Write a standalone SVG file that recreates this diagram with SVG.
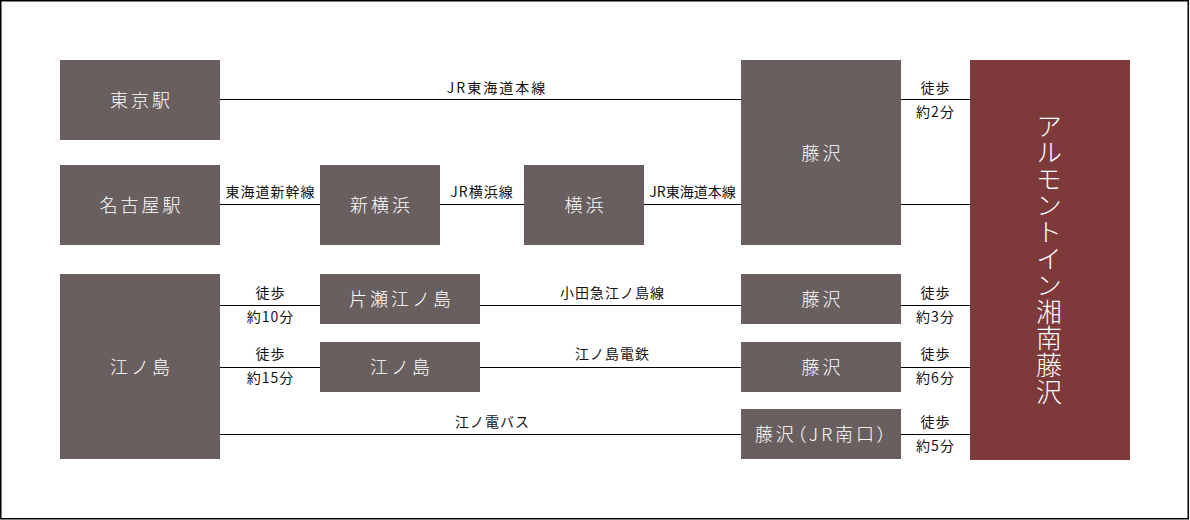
<svg xmlns="http://www.w3.org/2000/svg" width="1190" height="520" viewBox="0 0 1190 520">
<style>
.bg{fill:#ffffff}
.frame{fill:none;stroke:#000;stroke-width:1.5}
.n{fill:#6a5f5f}
.h{fill:#7e393a}
.nt{font-family:"Noto Sans CJK JP","Noto Sans CJK SC",sans-serif;font-size:18px;font-weight:300;fill:#fff;text-anchor:middle;letter-spacing:3px}
.ht{font-family:"Noto Sans CJK JP","Noto Sans CJK SC",sans-serif;font-size:26px;font-weight:300;fill:#fff;text-anchor:middle;writing-mode:vertical-rl;letter-spacing:0.6px}
.lb{font-family:"Noto Sans CJK JP","Noto Sans CJK SC",sans-serif;font-size:14px;fill:#111;text-anchor:middle;letter-spacing:1px}
.c line{stroke:#000;stroke-width:1.2}
</style>
<rect class="bg" x="0" y="0" width="1190" height="520"/>
<rect class="frame" x="0.75" y="0.75" width="1187.5" height="518"/>

<g class="c" id="connectors">
<line x1="220" y1="99.5" x2="741" y2="99.5"/>
<line x1="220" y1="204.5" x2="320" y2="204.5"/>
<line x1="440" y1="204.5" x2="524" y2="204.5"/>
<line x1="644" y1="204.5" x2="741" y2="204.5"/>
<line x1="901" y1="99.5" x2="970" y2="99.5"/>
<line x1="901" y1="204.5" x2="970" y2="204.5"/>
<line x1="220" y1="305.5" x2="320" y2="305.5"/>
<line x1="480" y1="305.5" x2="741" y2="305.5"/>
<line x1="901" y1="305.5" x2="970" y2="305.5"/>
<line x1="220" y1="367.5" x2="320" y2="367.5"/>
<line x1="480" y1="367.5" x2="741" y2="367.5"/>
<line x1="901" y1="367.5" x2="970" y2="367.5"/>
<line x1="220" y1="434.5" x2="741" y2="434.5"/>
<line x1="901" y1="434.5" x2="970" y2="434.5"/>
</g>

<g id="labels">
<text class="lb" x="497" y="93" style="letter-spacing:2px">JR東海道本線</text>
<text class="lb" x="270.5" y="197">東海道新幹線</text>
<text class="lb" x="482" y="197">JR横浜線</text>
<text class="lb" x="692.5" y="197" style="letter-spacing:0px">JR東海道本線</text>
<text class="lb" x="935.5" y="93">徒歩</text>
<text class="lb" x="935.5" y="117">約2分</text>
<text class="lb" x="270.5" y="298">徒歩</text>
<text class="lb" x="270.5" y="322">約10分</text>
<text class="lb" x="612.5" y="298">小田急江ノ島線</text>
<text class="lb" x="935.5" y="298">徒歩</text>
<text class="lb" x="935.5" y="322">約3分</text>
<text class="lb" x="270.5" y="359">徒歩</text>
<text class="lb" x="270.5" y="383">約15分</text>
<text class="lb" x="612.5" y="359">江ノ島電鉄</text>
<text class="lb" x="935.5" y="359">徒歩</text>
<text class="lb" x="935.5" y="383">約6分</text>
<text class="lb" x="492.5" y="427">江ノ電バス</text>
<text class="lb" x="935.5" y="427">徒歩</text>
<text class="lb" x="935.5" y="451">約5分</text>
</g>

<g id="tokyo"><rect class="n" x="60" y="60" width="160" height="80"/><text class="nt" x="141.5" y="107">東京駅</text></g>
<g id="nagoya"><rect class="n" x="60" y="165" width="160" height="80"/><text class="nt" x="141.5" y="212">名古屋駅</text></g>
<g id="shinyokohama"><rect class="n" x="320" y="165" width="120" height="80"/><text class="nt" x="381.5" y="212">新横浜</text></g>
<g id="yokohama"><rect class="n" x="524" y="165" width="120" height="80"/><text class="nt" x="585.5" y="212">横浜</text></g>
<g id="fujisawa1"><rect class="n" x="741" y="60" width="160" height="185"/><text class="nt" x="822.5" y="160">藤沢</text></g>
<g id="enoshima"><rect class="n" x="60" y="274" width="160" height="185"/><text class="nt" x="141.5" y="374">江ノ島</text></g>
<g id="katase"><rect class="n" x="320" y="274" width="160" height="50"/><text class="nt" x="401.5" y="306">片瀬江ノ島</text></g>
<g id="enoshima2"><rect class="n" x="320" y="342" width="160" height="50"/><text class="nt" x="401.5" y="374">江ノ島</text></g>
<g id="fujisawa2"><rect class="n" x="741" y="274" width="160" height="50"/><text class="nt" x="822.5" y="306">藤沢</text></g>
<g id="fujisawa3"><rect class="n" x="741" y="342" width="160" height="50"/><text class="nt" x="822.5" y="374">藤沢</text></g>
<g id="fujisawa4"><rect class="n" x="741" y="409" width="160" height="50"/><text class="nt" x="822" y="441" style="font-feature-settings:'palt';letter-spacing:3px">藤沢（JR南口）</text></g>
<g id="hotel"><rect class="h" x="970" y="60" width="160" height="400"/><text class="ht" x="1049" y="259">アルモントイン湘南藤沢</text></g>
</svg>
